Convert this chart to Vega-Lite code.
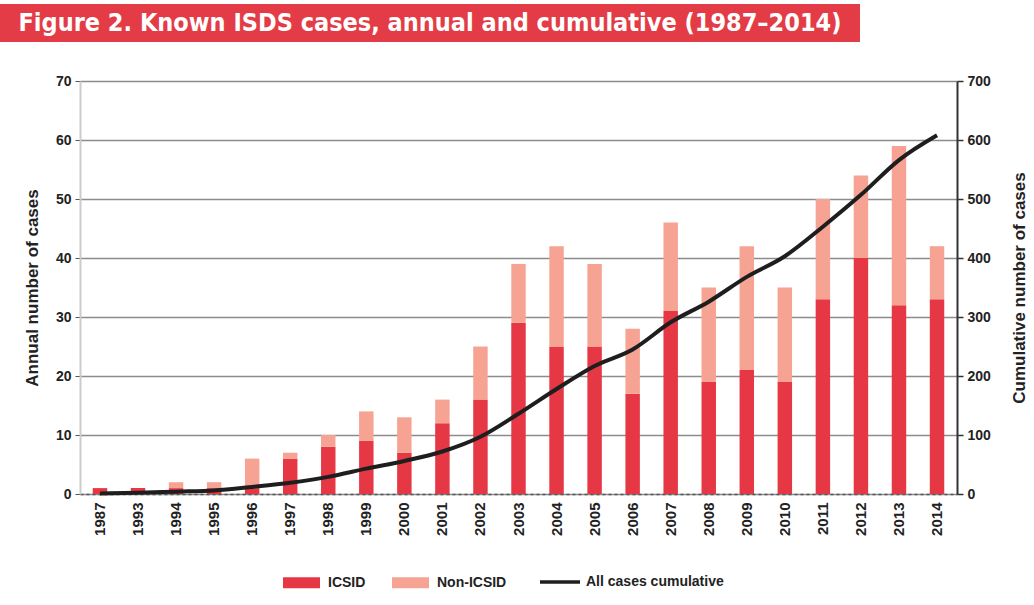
{
  "$schema": "https://vega.github.io/schema/vega-lite/v6.json",
  "padding": {"left": 0, "top": 4, "right": 0, "bottom": 0},
  "background": "#ffffff",
  "spacing": 32,
  "config": {
    "view": {"stroke": null},
    "font": "Liberation Sans",
    "axis": {"labelFont": "Liberation Sans", "labelFontWeight": "bold", "labelColor": "#222222", "titleFont": "Liberation Sans", "titleFontWeight": "bold", "titleColor": "#222222"},
    "legend": {"labelFont": "Liberation Sans", "labelFontWeight": "bold", "labelColor": "#222222"}
  },
  "datasets": {
    "header": [{"title": "Figure 2. Known ISDS cases, annual and cumulative (1987–2014)", "start": 0, "end": 1, "mid": 0.5}],
    "annual": [
      {"year": "1987", "type": "ICSID", "cases": 1},
      {"year": "1993", "type": "ICSID", "cases": 1},
      {"year": "1994", "type": "ICSID", "cases": 1},
      {"year": "1994", "type": "Non-ICSID", "cases": 1},
      {"year": "1995", "type": "ICSID", "cases": 1},
      {"year": "1995", "type": "Non-ICSID", "cases": 1},
      {"year": "1996", "type": "ICSID", "cases": 1},
      {"year": "1996", "type": "Non-ICSID", "cases": 5},
      {"year": "1997", "type": "ICSID", "cases": 6},
      {"year": "1997", "type": "Non-ICSID", "cases": 1},
      {"year": "1998", "type": "ICSID", "cases": 8},
      {"year": "1998", "type": "Non-ICSID", "cases": 2},
      {"year": "1999", "type": "ICSID", "cases": 9},
      {"year": "1999", "type": "Non-ICSID", "cases": 5},
      {"year": "2000", "type": "ICSID", "cases": 7},
      {"year": "2000", "type": "Non-ICSID", "cases": 6},
      {"year": "2001", "type": "ICSID", "cases": 12},
      {"year": "2001", "type": "Non-ICSID", "cases": 4},
      {"year": "2002", "type": "ICSID", "cases": 16},
      {"year": "2002", "type": "Non-ICSID", "cases": 9},
      {"year": "2003", "type": "ICSID", "cases": 29},
      {"year": "2003", "type": "Non-ICSID", "cases": 10},
      {"year": "2004", "type": "ICSID", "cases": 25},
      {"year": "2004", "type": "Non-ICSID", "cases": 17},
      {"year": "2005", "type": "ICSID", "cases": 25},
      {"year": "2005", "type": "Non-ICSID", "cases": 14},
      {"year": "2006", "type": "ICSID", "cases": 17},
      {"year": "2006", "type": "Non-ICSID", "cases": 11},
      {"year": "2007", "type": "ICSID", "cases": 31},
      {"year": "2007", "type": "Non-ICSID", "cases": 15},
      {"year": "2008", "type": "ICSID", "cases": 19},
      {"year": "2008", "type": "Non-ICSID", "cases": 16},
      {"year": "2009", "type": "ICSID", "cases": 21},
      {"year": "2009", "type": "Non-ICSID", "cases": 21},
      {"year": "2010", "type": "ICSID", "cases": 19},
      {"year": "2010", "type": "Non-ICSID", "cases": 16},
      {"year": "2011", "type": "ICSID", "cases": 33},
      {"year": "2011", "type": "Non-ICSID", "cases": 17},
      {"year": "2012", "type": "ICSID", "cases": 40},
      {"year": "2012", "type": "Non-ICSID", "cases": 14},
      {"year": "2013", "type": "ICSID", "cases": 32},
      {"year": "2013", "type": "Non-ICSID", "cases": 27},
      {"year": "2014", "type": "ICSID", "cases": 33},
      {"year": "2014", "type": "Non-ICSID", "cases": 9}
    ],
    "cumulative": [
      {"year": "1987", "total": 1},
      {"year": "1993", "total": 2},
      {"year": "1994", "total": 4},
      {"year": "1995", "total": 6},
      {"year": "1996", "total": 12},
      {"year": "1997", "total": 19},
      {"year": "1998", "total": 29},
      {"year": "1999", "total": 43},
      {"year": "2000", "total": 56},
      {"year": "2001", "total": 72},
      {"year": "2002", "total": 97},
      {"year": "2003", "total": 136},
      {"year": "2004", "total": 178},
      {"year": "2005", "total": 217},
      {"year": "2006", "total": 245},
      {"year": "2007", "total": 291},
      {"year": "2008", "total": 326},
      {"year": "2009", "total": 368},
      {"year": "2010", "total": 403},
      {"year": "2011", "total": 453},
      {"year": "2012", "total": 507},
      {"year": "2013", "total": 566},
      {"year": "2014", "total": 608}
    ]
  },
  "vconcat": [
    {
      "width": 780,
      "height": 38,
      "data": {"name": "header"},
      "layer": [
        {
          "mark": {"type": "rect", "color": "#e33c46"},
          "encoding": {
            "x": {"field": "start", "type": "quantitative", "scale": {"domain": [0, 1], "range": [-80, 780], "nice": false, "zero": false}, "axis": null},
            "x2": {"field": "end"},
            "y": {"field": "start", "type": "quantitative", "scale": {"domain": [0, 1], "nice": false}, "axis": null},
            "y2": {"field": "end"}
          }
        },
        {
          "mark": {"type": "text", "color": "#ffffff", "font": "DejaVu Sans Condensed, Liberation Sans, sans-serif", "fontWeight": "bold", "fontSize": 25, "align": "center", "baseline": "middle"},
          "encoding": {
            "x": {"field": "mid", "type": "quantitative"},
            "y": {"field": "mid", "type": "quantitative"},
            "text": {"field": "title"}
          }
        }
      ]
    },
    {
      "width": 877,
      "height": 413,
      "layer": [
        {
          "data": {"name": "annual"},
          "mark": {"type": "bar"},
          "encoding": {
            "x": {
              "field": "year", "type": "nominal", "title": null,
              "scale": {"paddingInner": 0.62, "paddingOuter": 0.335},
              "axis": {"labelAngle": -90, "labelFontSize": 15, "labelPadding": 8, "ticks": false, "domainColor": "#555555", "domainWidth": 1.5, "domainDash": [3, 3]}
            },
            "y": {
              "field": "cases", "type": "quantitative", "stack": "zero",
              "scale": {"domain": [0, 70], "nice": false},
              "axis": {"values": [0, 10, 20, 30, 40, 50, 60, 70], "title": "Annual number of cases", "titleFontSize": 17, "titlePadding": 14, "labelFontSize": 14, "labelPadding": 4, "tickSize": 5, "tickColor": "#555555", "domainColor": "#cccccc", "domainWidth": 2, "grid": true, "gridColor": "#8c8c8c", "gridWidth": 1.5}
            },
            "color": {
              "field": "type", "type": "nominal",
              "scale": {"domain": ["ICSID", "Non-ICSID"], "range": ["#e63844", "#f6a394"]},
              "legend": {"title": null, "orient": "none", "legendX": 203, "legendY": 483, "direction": "horizontal", "symbolType": "M-1,-0.3H1V0.3H-1Z", "symbolSize": 1369, "symbolStrokeWidth": 0, "labelFontSize": 14, "labelOffset": 8, "columnPadding": 26, "padding": 0}
            },
            "order": {"field": "type", "sort": "ascending"}
          }
        },
        {
          "data": {"name": "cumulative"},
          "mark": {"type": "line", "strokeWidth": 4, "interpolate": "monotone"},
          "encoding": {
            "x": {"field": "year", "type": "nominal"},
            "y": {
              "field": "total", "type": "quantitative",
              "scale": {"domain": [0, 700], "nice": false},
              "axis": {"orient": "right", "values": [0, 100, 200, 300, 400, 500, 600, 700], "title": "Cumulative number of cases", "titleAngle": -90, "titleBaseline": "bottom", "titleFontSize": 17, "titlePadding": 38, "labelFontSize": 14, "labelPadding": 4, "tickSize": 6, "tickColor": "#333333", "tickWidth": 1.5, "domainColor": "#333333", "domainWidth": 2, "grid": false}
            },
            "stroke": {
              "datum": "All cases cumulative",
              "scale": {"range": ["#1e1e1e"]},
              "legend": {"title": null, "orient": "none", "legendX": 458, "legendY": 479, "symbolType": "stroke", "symbolSize": 1600, "symbolStrokeWidth": 3.5, "labelFontSize": 14, "labelOffset": 4, "padding": 0}
            }
          }
        }
      ],
      "resolve": {"scale": {"y": "independent", "color": "independent", "stroke": "independent"}}
    }
  ]
}
